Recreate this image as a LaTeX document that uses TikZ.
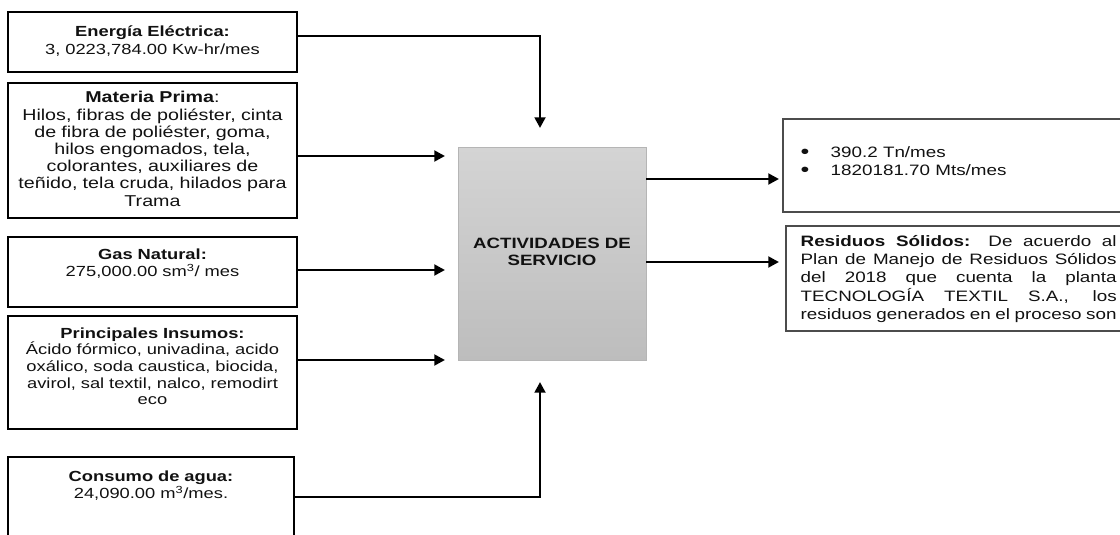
\documentclass[tikz,border=0pt]{standalone}
\usepackage{fontspec}
\setmainfont{Liberation Sans}[FakeStretch=1.25]
\usetikzlibrary{arrows.meta}
\definecolor{boxtop}{HTML}{D4D4D4}
\definecolor{boxbot}{HTML}{BDBDBD}
\definecolor{boxedge}{HTML}{B5B5B5}
\definecolor{ink}{HTML}{111111}
\newcommand{\bigbul}{\makebox[22.5pt][l]{\raisebox{-0.5pt}{\fontsize{15pt}{15pt}\selectfont\textbullet}}}
\tikzset{
  inbox/.style={draw=black, line width=1.5pt, minimum width=216.75pt, inner sep=0pt},
  outbox/.style={draw=black!70, line width=0.9pt, inner sep=0pt},
  txt/.style={anchor=base, align=center, text width=216pt, inner sep=0pt, text=ink,
    font=\fontsize{11pt}{13pt}\selectfont},
  rtxt/.style={anchor=base west, inner sep=0pt, text=ink},
  conn/.style={line width=2pt, -{Triangle[length=8pt,width=8pt]}},
}
\begin{document}
\begin{tikzpicture}[x=0.75pt,y=-0.75pt]
\useasboundingbox (0,0) rectangle (1120,535);
% input boxes
\node[inbox, minimum height=45pt] (b1) at (152.5,42) {};
\node[inbox, minimum height=101.25pt] (b2) at (152.5,150.5) {};
\node[inbox, minimum height=52.5pt] (b3) at (152.5,272) {};
\node[inbox, minimum height=84.75pt] (b4) at (152.5,372.5) {};
\node[inbox, minimum width=214.5pt, minimum height=69.75pt] (b5) at (151,503.5) {};
\node[txt] (t1) at ([yshift=-19.5pt]b1.north) {\textbf{Energía Eléctrica:}\\3, 0223,784.00 Kw-hr/mes};
\node[txt, font=\fontsize{11.8pt}{12.9pt}\selectfont] (t2) at ([yshift=-15.75pt]b2.north) {\textbf{Materia Prima}:\\Hilos, fibras de poliéster, cinta\\de fibra de poliéster, goma,\\hilos engomados, tela,\\colorantes, auxiliares de\\teñido, tela cruda, hilados para\\Trama};
\node[txt] (t3) at ([yshift=-17.25pt]b3.north) {\textbf{Gas Natural:}\\275,000.00 sm\textsuperscript{3}/ mes};
\node[txt, font=\fontsize{11pt}{12.5pt}\selectfont] (t4) at ([yshift=-17.25pt]b4.north) {\textbf{Principales Insumos:}\\Ácido fórmico, univadina, acido\\oxálico, soda caustica, biocida,\\avirol, sal textil, nalco, remodirt\\eco};
\node[txt] (t5) at ([yshift=-18.75pt]b5.north) {\textbf{Consumo de agua:}\\24,090.00 m\textsuperscript{3}/mes.};
% central box
\node[draw=boxedge, line width=0.6pt, top color=boxtop, bottom color=boxbot,
  minimum width=141pt, minimum height=159.75pt, inner sep=0pt] (c) at (552,253.5) {};
\node[align=center, inner sep=0pt, text=ink, font=\fontsize{11.2pt}{12.8pt}\selectfont\bfseries]
  (ct) at ([yshift=1.5pt]c.center) {ACTIVIDADES DE\\SERVICIO};
% output boxes
\node[outbox, minimum width=264pt, minimum height=69.75pt] (r1) at (959,165.5) {};
\node[outbox, minimum width=261.75pt, minimum height=78.75pt] (r2) at (960.5,278.5) {};
\node[rtxt, align=left, font=\fontsize{11.3pt}{13.5pt}\selectfont] (rt1) at ([xshift=13.5pt,yshift=-42.75pt]r1.north west)
  {\bigbul 390.2 Tn/mes\\\bigbul 1820181.70 Mts/mes};
\node[rtxt, text width=237pt, align=justify, font=\fontsize{11.3pt}{13.7pt}\selectfont] (rt2) at ([xshift=11.25pt,yshift=-15.75pt]r2.north west)
  {\textbf{Residuos Sólidos:} De acuerdo al\linebreak Plan de Manejo de Residuos Sólidos\linebreak del 2018 que cuenta la planta\linebreak TECNOLOGÍA TEXTIL S.A., los\linebreak residuos generados en el proceso son};
% arrow tips
\coordinate (i1) at (540,128);
\coordinate (i2) at (445,156);
\coordinate (i3) at (445,270);
\coordinate (i4) at (445,360);
\coordinate (i5) at (540,382);
\coordinate (o1) at (779,179);
\coordinate (o2) at (779,262);
% connectors
\draw[conn] ([yshift=4.5pt]b1.east) -| (i1);
\draw[conn] (b2.east |- i2) -- (i2);
\draw[conn] (b3.east |- i3) -- (i3);
\draw[conn] (b4.east |- i4) -- (i4);
\draw[conn] ([yshift=4.875pt]b5.east) -| (i5);
\draw[conn] (c.east |- o1) -- (o1);
\draw[conn] (c.east |- o2) -- (o2);
\end{tikzpicture}
\end{document}
